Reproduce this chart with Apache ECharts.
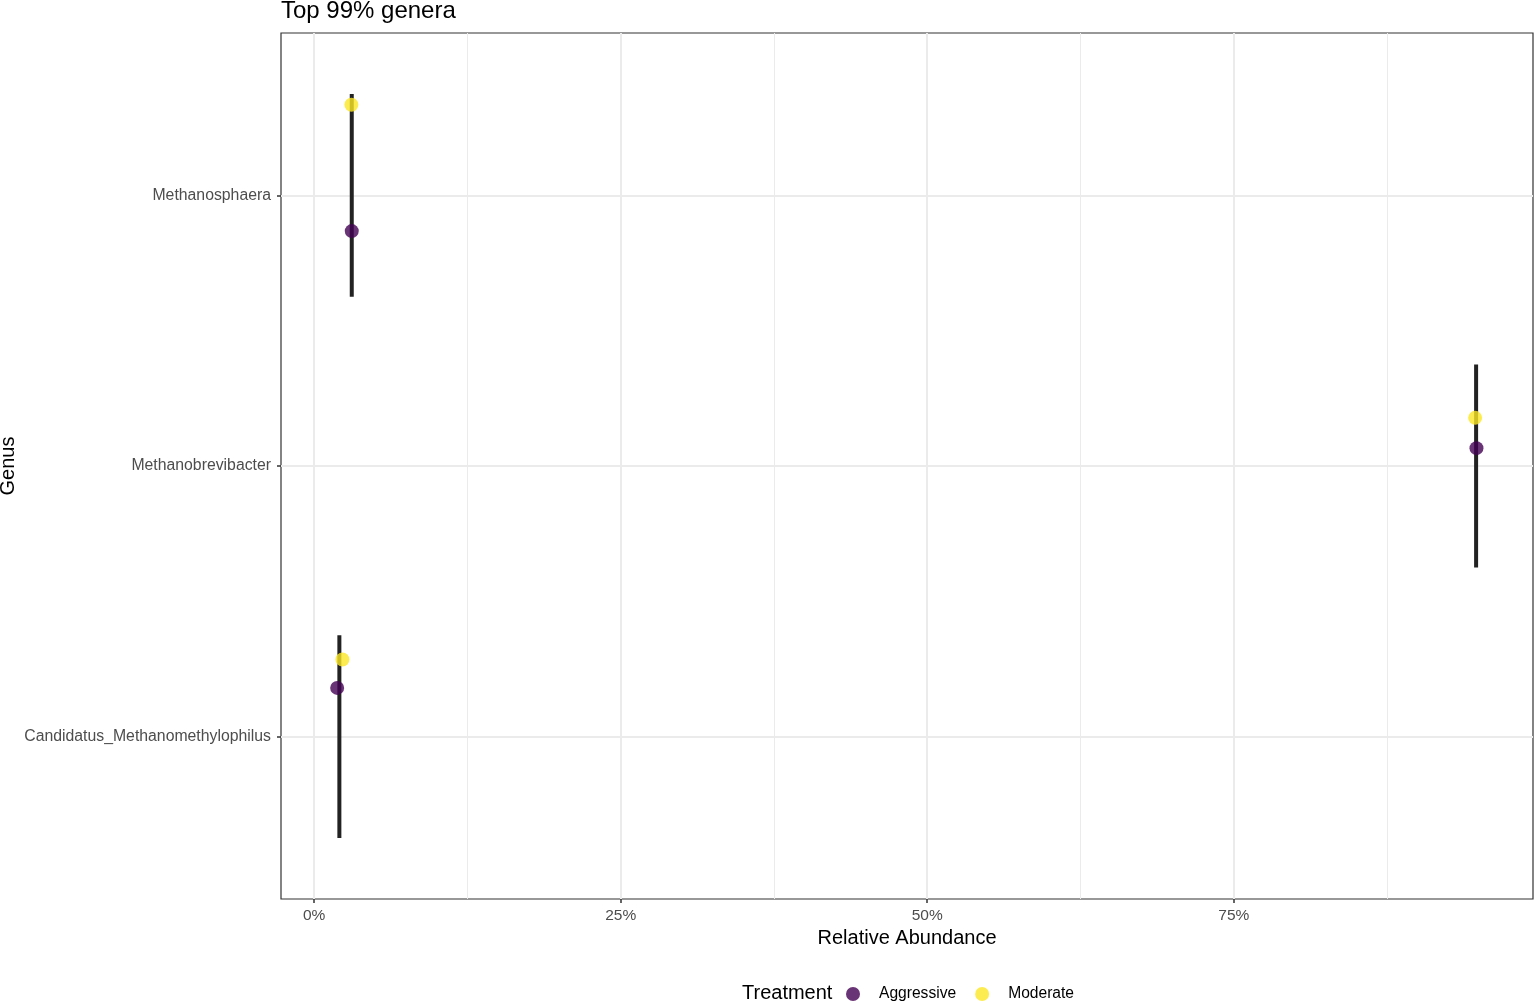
<!DOCTYPE html>
<html>
<head>
<meta charset="utf-8">
<script src="https://cdn.jsdelivr.net/npm/echarts@6/dist/echarts.min.js"></script>
<style>
  html, body { margin: 0; padding: 0; background: #fff; }
  #chart { width: 1535px; height: 1001px; }
</style>
</head>
<body>
<div id="chart"></div>
<script>
// genera, bottom to top (y positions 1, 2, 3)
var genera = ['Candidatus_Methanomethylophilus', 'Methanobrevibacter', 'Methanosphaera'];
// x position of the vertical bar per genus (%)
var barX = [2.06, 94.76, 3.07];
// points (x in %, y in category units, jittered)
var aggressiveX = [1.88, 94.79, 3.07];
var aggressiveY = [1.18, 2.066, 2.868];
var moderateX = [2.31, 94.68, 3.04];
var moderateY = [1.285, 2.178, 3.335];
var xTicks = [0, 25, 50, 75];
var xMinor = [12.5, 37.5, 62.5, 87.5];
var yTicks = [1, 2, 3];

var font = '"Liberation Sans", Arial, sans-serif';

var barData = genera.map(function (g, i) { return [barX[i], i + 1]; });
var aggData = aggressiveX.map(function (x, i) { return [x, aggressiveY[i]]; });
var modData = moderateX.map(function (x, i) { return [x, moderateY[i]]; });

var chart = echarts.init(document.getElementById('chart'));
var option = {
    animation: false,
    backgroundColor: '#fff',
    textStyle: { fontFamily: font },
    title: [
        { text: 'Top 99% genera', left: 276, top: -6,
          textStyle: { fontFamily: font, fontSize: 24, fontWeight: 'normal', color: '#000' } },
        { text: 'Treatment', left: 737, top: 978,
          textStyle: { fontFamily: font, fontSize: 20, fontWeight: 'normal', color: '#000' } }
    ],
    legend: {
        left: 841, top: 981,
        icon: 'circle',
        itemWidth: 26, itemHeight: 14, itemGap: 19,
        textStyle: { fontFamily: font, fontSize: 15.6, color: '#000', padding: [0, 0, 0, 8] },
        data: ['Aggressive', 'Moderate']
    },
    grid: {
        left: 281, right: 2, top: 33, bottom: 102,
        outerBoundsMode: 'none',
        show: true, borderColor: '#333', borderWidth: 1.2, backgroundColor: '#fff'
    },
    xAxis: {
        type: 'value', min: -2.7, max: 99.4,
        name: 'Relative Abundance', nameLocation: 'middle', nameGap: 27,
        nameTextStyle: { fontFamily: font, fontSize: 20, color: '#000' },
        axisLine: { show: false, onZero: false },
        axisTick: { show: true, length: 4, customValues: xTicks, lineStyle: { color: '#333', width: 1.5 } },
        axisLabel: { customValues: xTicks, formatter: function (v) { return v + '%'; },
                     fontFamily: font, fontSize: 15.5, color: '#4d4d4d', margin: 9 },
        splitLine: { show: true, lineStyle: { color: '#ebebeb', width: 2 } }
    },
    yAxis: {
        type: 'value', min: 0.4, max: 3.6,
        name: 'Genus', nameLocation: 'middle', nameGap: 263, nameRotate: 90,
        nameMoveOverlap: false,
        nameTextStyle: { fontFamily: font, fontSize: 20, color: '#000' },
        axisLine: { show: false, onZero: false },
        axisTick: { show: true, length: 4, customValues: yTicks, lineStyle: { color: '#333', width: 1.5 } },
        axisLabel: { customValues: yTicks, formatter: function (v) { return genera[Math.round(v) - 1]; },
                     fontFamily: font, fontSize: 15.8, color: '#4d4d4d', margin: 10 },
        splitLine: { show: true, lineStyle: { color: '#ebebeb', width: 2 } }
    },
    series: [
        {
            type: 'custom', name: 'bars', silent: true, z: 3,
            data: barData,
            renderItem: function (params, api) {
                var x = api.value(0), y = api.value(1);
                var p1 = api.coord([x, y - 0.375]);
                var p2 = api.coord([x, y + 0.375]);
                return { type: 'line',
                         shape: { x1: p1[0], y1: p1[1], x2: p2[0], y2: p2[1] },
                         style: { stroke: '#222', lineWidth: 4 } };
            },
            markLine: {
                silent: true, symbol: 'none', label: { show: false }, z: 1,
                lineStyle: { color: '#ebebeb', width: 1, type: 'solid' },
                data: xMinor.map(function (v) { return { xAxis: v }; })
            }
        },
        {
            type: 'scatter', name: 'Aggressive', z: 4,
            symbolSize: 14,
            itemStyle: { color: '#440154', opacity: 0.8 },
            data: aggData
        },
        {
            type: 'scatter', name: 'Moderate', z: 4,
            symbolSize: 14,
            itemStyle: { color: '#FDE725', opacity: 0.8 },
            data: modData
        }
    ]
};
chart.setOption(option);
</script>
</body>
</html>
